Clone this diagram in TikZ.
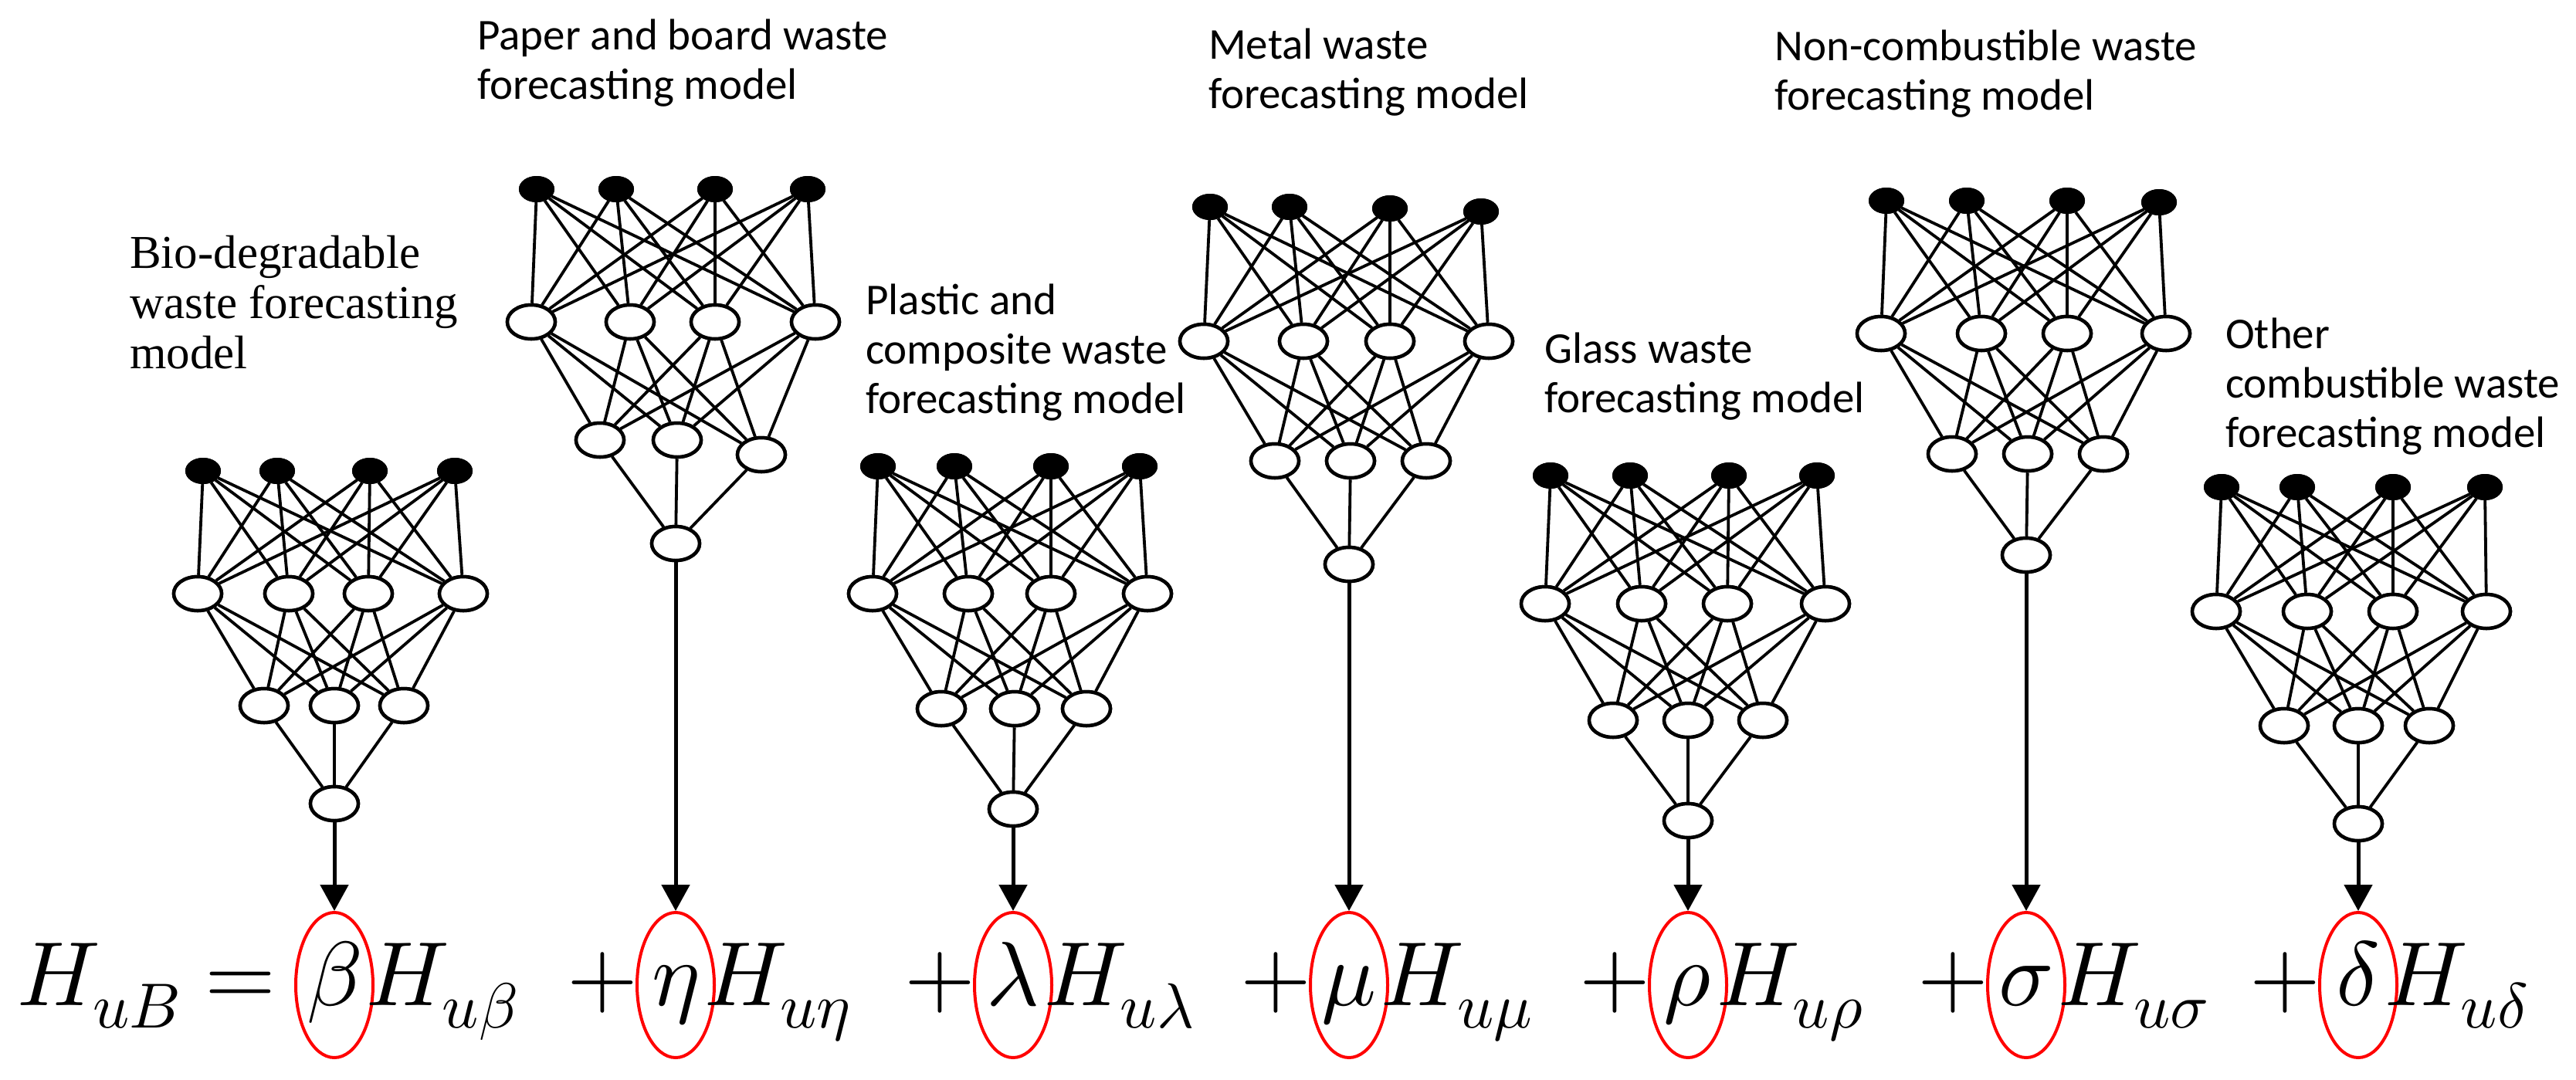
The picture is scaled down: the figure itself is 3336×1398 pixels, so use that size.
\documentclass[tikz,border=0pt]{standalone}
\usepackage{fontspec}
\usepackage{unicode-math}
\setmathfont{Latin Modern Math}
\setmainfont{Liberation Serif}
\newfontfamily\lbsans{Carlito}
\newfontfamily\lbserif{Liberation Serif}
\usetikzlibrary{shapes.geometric,arrows.meta,calc}
\tikzset{
  inp/.style={ellipse,fill=black,draw=black,line width=2pt,minimum width=44pt,minimum height=32pt,inner sep=0pt},
  hid/.style={ellipse,fill=white,draw=black,line width=4.5pt,minimum width=62pt,minimum height=44pt,inner sep=0pt},
  con/.style={line width=3.8pt},
  arr/.style={line width=5pt,-{Triangle[width=36pt,length=34pt]}},
  circ/.style={ellipse,draw=red,line width=4pt,minimum width=100pt,minimum height=188pt,inner sep=0pt},
  lbs/.style={font=\fontsize{57}{64}\lbsans,align=left,anchor=north west,inner sep=0pt},
  lbr/.style={font=\fontsize{61}{65}\lbserif,align=left,anchor=north west,inner sep=0pt},
  eq/.style={font=\fontsize{118}{120}\selectfont,inner sep=0pt,anchor=base}
}
% #1 id, #2 inputs, #3 hidden1, #4 hidden2, #5 output
\newcommand{\mynet}[5]{%
  \foreach \x/\y [count=\i] in {#2} {\node[inp] (#1a\i) at (\x,\y) {};}
  \foreach \x/\y [count=\i] in {#3} {\node[hid] (#1b\i) at (\x,\y) {};}
  \foreach \x/\y [count=\i] in {#4} {\node[hid] (#1c\i) at (\x,\y) {};}
  \node[hid] (#1o) at (#5) {};
  \foreach \i in {1,...,4}{\foreach \j in {1,...,4}{\draw[con] (#1a\i) -- (#1b\j);}}
  \foreach \i in {1,...,4}{\foreach \j in {1,...,3}{\draw[con] (#1b\i) -- (#1c\j);}}
  \foreach \j in {1,...,3}{\draw[con] (#1c\j) -- (#1o);}
  \foreach \x/\y [count=\i] in {#2} {\node[inp] at (\x,\y) {};}
  \foreach \x/\y [count=\i] in {#3} {\node[hid] at (\x,\y) {};}
  \foreach \x/\y [count=\i] in {#4} {\node[hid] at (\x,\y) {};}
  \node[hid] at (#5) {};
}
\begin{document}
\begin{tikzpicture}[x=1pt,y=-1pt]
\useasboundingbox (0,0) rectangle (3336,1398);
\fill[white] (0,0) rectangle (3336,1398);

\mynet{A}{263/610,359/610,479/610,589/610}{256/769,374/769,477/769,600/769}{342/914,433/914,523/914}{433,1041}
\mynet{B}{695/245,798/245,926/245,1046/245}{688/417,816/417,926/417,1056/417}{777/570,877/570,986/589}{875,704}
\mynet{C}{1137/604,1236/604,1361/604,1476/604}{1130/769,1254/769,1361/769,1486/769}{1219/918,1314/918,1407/918}{1312,1048}
\mynet{D}{1567/268,1670/268,1800/270,1918/274}{1559/442,1688/442,1800/442,1928/442}{1651/597,1749/597,1847/597}{1747,731}
\mynet{E}{2008/616,2111/616,2239/616,2353/616}{2001/782,2126/782,2237/782,2364/782}{2089/933,2186/933,2283/933}{2186,1063}
\mynet{F}{2443/260,2547/260,2677/260,2796/262}{2436/432,2566/432,2677/432,2805/432}{2528/588,2626/588,2724/588}{2624,719}
\mynet{G}{2877/631,2975/631,3099/631,3218/631}{2870/792,2988/792,3099/792,3220/792}{2958/940,3054/940,3146/940}{3054,1067}

\node[lbr] (tA) at (168,305) {Bio-degradable\\waste forecasting\\model};
\node[lbs] (tB) at (618,25) {Paper and board waste\\forecasting model};
\node[lbs] (tC) at (1121,368) {Plastic and\\composite waste\\forecasting model};
\node[lbs] (tD) at (1565,37) {Metal waste\\forecasting model};
\node[lbs] (tE) at (2000,431) {Glass waste\\forecasting model};
\node[lbs] (tF) at (2298,39) {Non-combustible waste\\forecasting model};
\node[lbs] (tG) at (2882,412) {Other\\combustible waste\\forecasting model};

% equation
\node[eq,anchor=base west] (lhs) at (22,1302) {$H_{uB}=$};
\foreach \id/\cx/\g in {A/433/\beta,B/875/\eta,C/1312/\lambda,D/1747/\mu,E/2186/\rho,F/2624/\sigma,G/3054/\delta}{
  \node[circ] (e\id) at (\cx,1276) {};
  \node[eq] (g\id) at (\cx,1302) {$\g$};
  \node[eq,anchor=base west] (h\id) at ($(g\id.base east)+(6,0)$) {$H_{u\g}$};
  \draw[arr] (\id o) -- (e\id.north);
}
\foreach \id/\cx in {B/875,C/1312,D/1747,E/2186,F/2624,G/3054}{
  \node[eq] (p\id) at (\cx-95,1302) {$+$};
}
\end{tikzpicture}
\end{document}
